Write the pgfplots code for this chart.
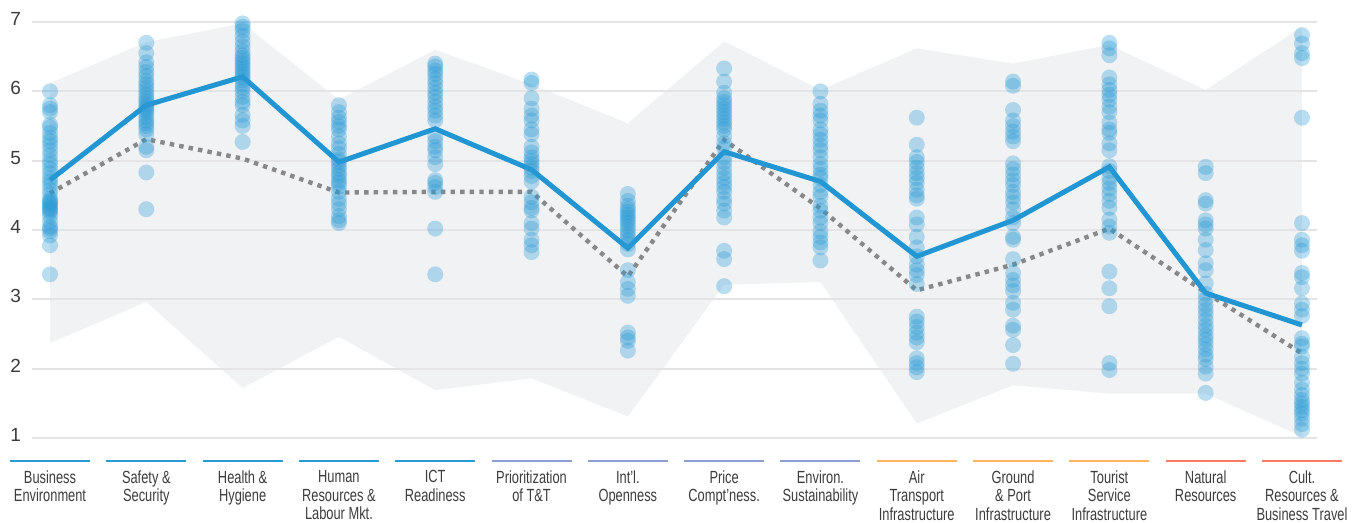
\documentclass[border=0pt]{standalone}
\usepackage{fontspec}
\setmainfont{Liberation Sans}
\newfontfamily\condfont[FakeStretch=0.73]{Liberation Sans}
\usepackage{pgfplots}
\pgfplotsset{compat=1.18}

\definecolor{dotblue}{HTML}{2A9BD6}
\definecolor{lineblue}{HTML}{2196D3}
\definecolor{avggray}{HTML}{888888}
\definecolor{bandgray}{HTML}{F1F2F4}
\definecolor{gridgray}{HTML}{E4E4E6}
\definecolor{labelgray}{HTML}{3C3C3C}
\definecolor{catblue}{HTML}{2A9AD2}
\definecolor{catpurple}{HTML}{8C9ED6}
\definecolor{catorange}{HTML}{FDB366}
\definecolor{catred}{HTML}{FB7A60}

\pgfplotsset{
  country/.style={only marks, mark=*, mark size=4pt, color=dotblue,
    mark options={solid, fill=dotblue, draw opacity=0, fill opacity=0.33}},
}

\begin{document}
\begin{tikzpicture}
\begin{axis}[
  set layers,
  scale only axis, width=642.5pt, height=208pt,
  xmin=-0.187, xmax=13.156, ymin=1, ymax=7,
  clip=false,
  axis line style={draw=none},
  major tick length=0pt,
  ytick={1,2,3,4,5,6,7},
  ymajorgrids,
  grid style={line width=1pt, gridgray},
  xtick={0,...,13},
  xticklabels={
    {Business\\Environment},
    {Safety \&\\Security},
    {Health \&\\Hygiene},
    {Human\\Resources \&\\Labour Mkt.},
    {ICT\\Readiness},
    {Prioritization\\of T\&T},
    {Int’l.\\Openness},
    {Price\\Compt’ness.},
    {Environ.\\Sustainability},
    {Air\\Transport\\Infrastructure},
    {Ground\\\& Port\\Infrastructure},
    {Tourist\\Service\\Infrastructure},
    {Natural\\Resources},
    {Cult.\\Resources \&\\Business Travel}},
  xticklabel style={font=\condfont\fontsize{8.8}{9.3}\selectfont,
    align=center, anchor=north, inner sep=0pt, yshift=-16pt, text=labelgray},
  yticklabel style={font=\fontsize{9.5}{10}\selectfont, text=labelgray,
    xshift=-2pt, yshift=1.5pt},
  /pgf/number format/assume math mode=true,
]

% range of all countries
\addplot[fill=bandgray, draw=none, on layer=axis background] coordinates {
  (0,6.12) (1,6.71) (2,6.98) (3,5.88) (4,6.60) (5,6.10) (6,5.54)
  (7,6.72) (8,6.02) (9,6.62) (10,6.40) (11,6.67) (12,6.02) (13,6.93)
  (13,1.02) (12,1.64) (11,1.64) (10,1.76) (9,1.21) (8,3.25) (7,3.21)
  (6,1.31) (5,1.86) (4,1.69) (3,2.46) (2,1.72) (1,2.96) (0,2.37)
} -- cycle;

% country scores
\addplot[country] coordinates {
  (0,6.00) (0,5.80) (0,5.75) (0,5.70) (0,5.52) (0,5.48) (0,5.40) (0,5.33)
  (0,5.28) (0,5.22) (0,5.15) (0,5.08) (0,5.00) (0,4.95) (0,4.88) (0,4.82)
  (0,4.75) (0,4.70) (0,4.65) (0,4.58) (0,4.52) (0,4.45) (0,4.42) (0,4.40)
  (0,4.38) (0,4.35) (0,4.32) (0,4.30) (0,4.28) (0,4.25) (0,4.20) (0,4.12)
  (0,4.05) (0,4.02) (0,3.98) (0,3.92) (0,3.78) (0,3.36)
};
\addplot[country] coordinates {
  (1,6.70) (1,6.55) (1,6.42) (1,6.35) (1,6.28) (1,6.22) (1,6.15) (1,6.10)
  (1,6.05) (1,6.00) (1,5.95) (1,5.90) (1,5.86) (1,5.82) (1,5.78) (1,5.75)
  (1,5.72) (1,5.68) (1,5.63) (1,5.58) (1,5.54) (1,5.50) (1,5.45) (1,5.38)
  (1,5.20) (1,5.15) (1,4.83) (1,4.30)
};
\addplot[country] coordinates {
  (2,6.98) (2,6.93) (2,6.88) (2,6.80) (2,6.72) (2,6.65) (2,6.58) (2,6.52)
  (2,6.48) (2,6.44) (2,6.40) (2,6.36) (2,6.32) (2,6.28) (2,6.24) (2,6.20)
  (2,6.16) (2,6.10) (2,6.05) (2,6.00) (2,5.92) (2,5.85) (2,5.80) (2,5.66)
  (2,5.58) (2,5.50) (2,5.27)
};
\addplot[country] coordinates {
  (3,5.80) (3,5.70) (3,5.62) (3,5.56) (3,5.50) (3,5.45) (3,5.35) (3,5.25)
  (3,5.18) (3,5.10) (3,5.02) (3,4.98) (3,4.93) (3,4.88) (3,4.82) (3,4.78)
  (3,4.72) (3,4.68) (3,4.63) (3,4.55) (3,4.45) (3,4.38) (3,4.30) (3,4.20)
  (3,4.14) (3,4.10)
};
\addplot[country] coordinates {
  (4,6.40) (4,6.36) (4,6.30) (4,6.25) (4,6.18) (4,6.12) (4,6.05) (4,5.98)
  (4,5.92) (4,5.85) (4,5.78) (4,5.72) (4,5.65) (4,5.58) (4,5.35) (4,5.28)
  (4,5.20) (4,5.15) (4,5.05) (4,4.95) (4,4.72) (4,4.68) (4,4.62) (4,4.55)
  (4,4.02) (4,3.36)
};
\addplot[country] coordinates {
  (5,6.17) (5,6.12) (5,5.90) (5,5.75) (5,5.65) (5,5.58) (5,5.45) (5,5.38)
  (5,5.20) (5,5.12) (5,5.05) (5,5.00) (5,4.95) (5,4.90) (5,4.85) (5,4.78)
  (5,4.70) (5,4.48) (5,4.40) (5,4.32) (5,4.28) (5,4.10) (5,4.02) (5,3.86)
  (5,3.78) (5,3.68)
};
\addplot[country] coordinates {
  (6,4.52) (6,4.42) (6,4.35) (6,4.30) (6,4.26) (6,4.22) (6,4.18) (6,4.14)
  (6,4.10) (6,4.05) (6,4.00) (6,3.95) (6,3.90) (6,3.85) (6,3.80) (6,3.72)
  (6,3.42) (6,3.25) (6,3.15) (6,3.05) (6,2.52) (6,2.45) (6,2.40) (6,2.26)
};
\addplot[country] coordinates {
  (7,6.33) (7,6.14) (7,5.98) (7,5.90) (7,5.85) (7,5.80) (7,5.75) (7,5.70)
  (7,5.65) (7,5.60) (7,5.55) (7,5.50) (7,5.45) (7,5.35) (7,5.25) (7,5.18)
  (7,5.05) (7,4.98) (7,4.90) (7,4.82) (7,4.75) (7,4.68) (7,4.62) (7,4.55)
  (7,4.45) (7,4.38) (7,4.28) (7,4.18) (7,3.70) (7,3.58) (7,3.19)
};
\addplot[country] coordinates {
  (8,6.00) (8,5.82) (8,5.72) (8,5.65) (8,5.58) (8,5.45) (8,5.38) (8,5.30)
  (8,5.22) (8,5.15) (8,5.05) (8,4.95) (8,4.88) (8,4.80) (8,4.75) (8,4.65)
  (8,4.55) (8,4.48) (8,4.35) (8,4.28) (8,4.18) (8,4.10) (8,3.98) (8,3.90)
  (8,3.82) (8,3.75) (8,3.56)
};
\addplot[country] coordinates {
  (9,5.62) (9,5.23) (9,5.05) (9,4.98) (9,4.90) (9,4.82) (9,4.75) (9,4.68)
  (9,4.58) (9,4.50) (9,4.45) (9,4.18) (9,4.08) (9,3.90) (9,3.75) (9,3.62)
  (9,3.50) (9,3.42) (9,3.35) (9,3.22) (9,2.75) (9,2.68) (9,2.60) (9,2.52)
  (9,2.45) (9,2.38) (9,2.15) (9,2.08) (9,2.02) (9,1.95)
};
\addplot[country] coordinates {
  (10,6.14) (10,6.08) (10,5.73) (10,5.58) (10,5.50) (10,5.42) (10,5.35)
  (10,5.28) (10,4.96) (10,4.88) (10,4.80) (10,4.72) (10,4.65) (10,4.55)
  (10,4.48) (10,4.40) (10,4.30) (10,4.18) (10,4.10) (10,3.90) (10,3.86)
  (10,3.58) (10,3.38) (10,3.28) (10,3.20) (10,3.12) (10,2.95) (10,2.85)
  (10,2.62) (10,2.56) (10,2.34) (10,2.07)
};
\addplot[country] coordinates {
  (11,6.70) (11,6.62) (11,6.52) (11,6.20) (11,6.10) (11,6.02) (11,5.95)
  (11,5.88) (11,5.78) (11,5.70) (11,5.55) (11,5.45) (11,5.40) (11,5.25)
  (11,5.15) (11,4.92) (11,4.85) (11,4.75) (11,4.68) (11,4.60) (11,4.52)
  (11,4.42) (11,4.32) (11,4.15) (11,4.05) (11,3.96) (11,3.40) (11,3.16)
  (11,2.90) (11,2.08) (11,1.98)
};
\addplot[country] coordinates {
  (12,4.91) (12,4.82) (12,4.43) (12,4.38) (12,4.14) (12,4.08) (12,4.02)
  (12,3.86) (12,3.71) (12,3.52) (12,3.42) (12,3.23) (12,3.08) (12,3.00)
  (12,2.92) (12,2.85) (12,2.78) (12,2.70) (12,2.62) (12,2.56) (12,2.48)
  (12,2.42) (12,2.35) (12,2.28) (12,2.20) (12,2.14) (12,2.03) (12,1.93)
  (12,1.65)
};
\addplot[country] coordinates {
  (13,6.81) (13,6.69) (13,6.55) (13,6.48) (13,5.62) (13,4.10) (13,3.86)
  (13,3.78) (13,3.70) (13,3.38) (13,3.32) (13,3.16) (13,2.94) (13,2.85)
  (13,2.76) (13,2.44) (13,2.36) (13,2.32) (13,2.17) (13,2.08) (13,2.00)
  (13,1.93) (13,1.80) (13,1.70) (13,1.62) (13,1.55) (13,1.50) (13,1.45)
  (13,1.40) (13,1.35) (13,1.28) (13,1.20) (13,1.12)
};

% reference average (dotted)
\addplot[avggray, line width=2.2pt, dash pattern=on 2.2pt off 2.6pt] coordinates {
  (0,4.53) (1,5.31) (2,5.03) (3,4.54) (4,4.55) (5,4.55) (6,3.33)
  (7,5.30) (8,4.31) (9,3.13) (10,3.50) (11,4.02) (12,3.10) (13,2.22)
};

% country line
\addplot[lineblue, line width=2.5pt] coordinates {
  (0,4.72) (1,5.80) (2,6.21) (3,4.98) (4,5.46) (5,4.87) (6,3.74)
  (7,5.13) (8,4.70) (9,3.62) (10,4.14) (11,4.91) (12,3.09) (13,2.63)
};

% pillar group rules under the labels
\pgfplotsinvokeforeach{0,1,2,3,4}{
  \draw[catblue, line width=1.2pt] ({#1-0.415},0.668) -- ({#1+0.415},0.668);}
\pgfplotsinvokeforeach{5,6,7,8}{
  \draw[catpurple, line width=1.2pt] ({#1-0.415},0.668) -- ({#1+0.415},0.668);}
\pgfplotsinvokeforeach{9,10,11}{
  \draw[catorange, line width=1.2pt] ({#1-0.415},0.668) -- ({#1+0.415},0.668);}
\pgfplotsinvokeforeach{12,13}{
  \draw[catred, line width=1.2pt] ({#1-0.415},0.668) -- ({#1+0.415},0.668);}
\end{axis}
\pgfresetboundingbox
\path[use as bounding box] (-16pt,-42.5pt) rectangle (663pt,219pt);
\end{tikzpicture}
\end{document}
